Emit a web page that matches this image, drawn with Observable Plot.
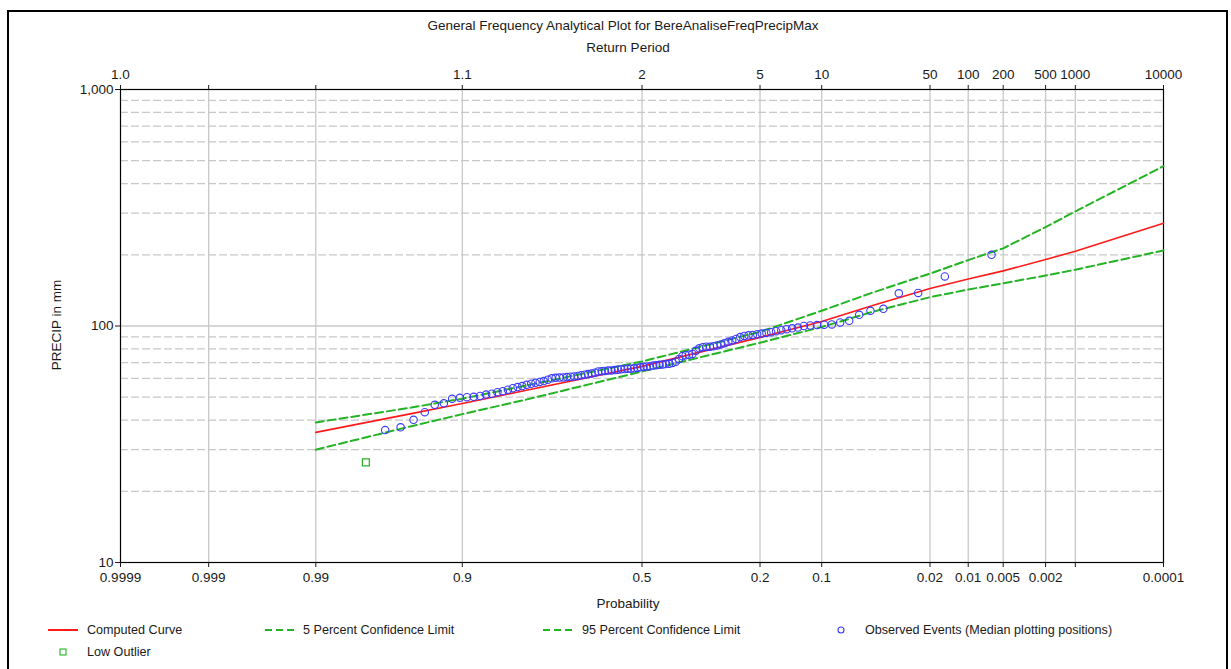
<!DOCTYPE html>
<html>
<head>
<meta charset="utf-8">
<script src="https://cdn.jsdelivr.net/npm/d3@7"></script>
<script src="https://cdn.jsdelivr.net/npm/@observablehq/plot@0.6"></script>
<style>
  html, body { margin: 0; padding: 0; background: #fff; }
  body { width: 1231px; height: 669px; position: relative; overflow: hidden;
         font-family: "Liberation Sans", Arial, sans-serif; font-size: 13.5px; color: #1a1a1a; }
  .abs { position: absolute; white-space: nowrap; line-height: 1; }
  .ctr { transform: translate(-50%, -50%); }
  .lt { transform: translate(0, -50%); font-size: 12.6px; }
  #border { position: absolute; left: 7px; top: 10px; width: 1217px; height: 700px; border: 2px solid #000; }
  #chart { position: absolute; left: 0; top: 58px; }
  .sw { position: absolute; }
</style>
</head>
<body>
<div id="border"></div>
<div class="abs ctr" style="left:623px; top:26px;">General Frequency Analytical Plot for BereAnaliseFreqPrecipMax</div>
<div class="abs ctr" style="left:628px; top:48px;">Return Period</div>
<div class="abs ctr" style="left:57px; top:325px; transform: translate(-50%,-50%) rotate(-90deg);">PRECIP in mm</div>
<div class="abs ctr" style="left:628px; top:604px;">Probability</div>
<div id="chart"></div>
<div id="legend"></div>
<script>
// ---------- data ----------
// exceedance probabilities of the axis ticks
const probTicks   = [0.9999, 0.999, 0.99, 0.9, 0.5, 0.2, 0.1, 0.02, 0.01, 0.005, 0.002, 0.001, 0.0001];
const probLabels  = ["0.9999", "0.999", "0.99", "0.9", "0.5", "0.2", "0.1", "0.02", "0.01", "0.005", "0.002", "", "0.0001"];
const returnLabels = ["1.0", "", "", "1.1", "2", "5", "10", "50", "100", "200", "500", "1000", "10000"];
// y axis
const yTicks = [10, 100, 1000];
const yMinorGrid = [20, 30, 40, 50, 60, 70, 80, 90, 200, 300, 400, 500, 600, 700, 800, 900];
const yMajorGrid = [100];

// frequency curves
const curveProb   = [0.99, 0.95, 0.9, 0.8, 0.5, 0.2, 0.1, 0.05, 0.02, 0.01, 0.005, 0.002, 0.001, 0.0001];
const computed    = [35.5, 42.6, 47.0, 53.2, 67.5, 89.5, 104.5, 122, 144, 158, 171, 191, 207, 272];
const conf5       = [39.1, 45.2, 49.3, 55.8, 70.8, 94.5, 116, 138.5, 166.5, 190, 213, 262, 305, 474];
const conf95      = [30.0, 37.7, 42.4, 48.6, 64.2, 85.0, 99, 114.8, 132.4, 142.6, 151.5, 163.5, 173, 208.6];

// observed events, ranked largest first (median plotting positions, record length n)
const recordLength = 110;
const observed = [
  200, 162, 138.0, 137.5, 118.2, 115.9, 111.5, 105.2, 103.5, 101.5,
  101.2, 100.9, 100.5, 100.0, 98.5, 97.8, 97.0, 96.0, 95.1, 94.2,
  93.5, 92.9, 92.3, 91.6, 91.3, 90.8, 89.8, 88.1, 86.9, 85.7,
  84.6, 83.6, 82.8, 82.1, 81.7, 81.7, 81.4, 80.5, 78.5, 76.2,
  75.6, 75.2, 74.5, 72.6, 70.6, 69.8, 69.2, 69.0, 68.8, 68.5,
  68.3, 68.0, 67.6, 67.4, 67.2, 66.9, 66.5, 66.2, 66.0, 65.9,
  65.8, 65.6, 65.3, 65.1, 64.9, 64.8, 64.6, 64.4, 64.2, 63.5,
  63.0, 62.6, 62.2, 61.9, 61.5, 61.2, 61.0, 60.8, 60.6, 60.5,
  60.4, 60.1, 59.3, 58.5, 58.0, 57.5, 57.0, 56.4, 55.7, 55.2,
  54.6, 53.8, 53.0, 52.5, 51.7, 51.3, 50.6, 50.2, 50.0, 49.7,
  49.2, 47.1, 46.4, 43.2, 40.1, 37.3, 36.3
];
const lowOutlierRank  = [108];
const lowOutlierValue = [26.5];

// ---------- helpers ----------
function invNorm(p) {
  const a=[-3.969683028665376e+01,2.209460984245205e+02,-2.759285104469687e+02,1.383577518672690e+02,-3.066479806614716e+01,2.506628277459239e+00];
  const b=[-5.447609879822406e+01,1.615858368580409e+02,-1.556989798598866e+02,6.680131188771972e+01,-1.328068155288572e+01];
  const c=[-7.784894002430293e-03,-3.223964580411365e-01,-2.400758277161838e+00,-2.549671010115155e+00,4.374664141464968e+00,2.938163982698783e+00];
  const d=[7.784695709041462e-03,3.224671290700398e-01,2.445134137142996e+00,3.754408661907416e+00];
  const pl = 0.02425, ph = 1 - pl;
  let q, r;
  if (p < pl) { q = Math.sqrt(-2*Math.log(p)); return (((((c[0]*q+c[1])*q+c[2])*q+c[3])*q+c[4])*q+c[5])/((((d[0]*q+d[1])*q+d[2])*q+d[3])*q+1); }
  if (p <= ph) { q = p - 0.5; r = q*q; return (((((a[0]*r+a[1])*r+a[2])*r+a[3])*r+a[4])*r+a[5])*q/(((((b[0]*r+b[1])*r+b[2])*r+b[3])*r+b[4])*r+1); }
  q = Math.sqrt(-2*Math.log(1-p));
  return -(((((c[0]*q+c[1])*q+c[2])*q+c[3])*q+c[4])*q+c[5])/((((d[0]*q+d[1])*q+d[2])*q+d[3])*q+1);
}
// exceedance probability -> standard normal position (probability paper)
const zx = P => invNorm(1 - P);
const medianPos = i => (i - 0.3) / (recordLength + 0.4);

const curveTable = curveProb.map((p, i) => ({p, computed: computed[i], conf5: conf5[i], conf95: conf95[i]}));
const obsTable = observed.map((v, i) => ({p: medianPos(i + 1), v}));
const outTable = lowOutlierValue.map((v, i) => ({p: medianPos(lowOutlierRank[i]), v}));

const tickZ = probTicks.map(zx);
const botMap = new Map(tickZ.map((z, i) => [z, probLabels[i]]));
const topMap = new Map(tickZ.map((z, i) => [z, returnLabels[i]]));
const gridZ = tickZ.slice(1, -1);

const RED = "#ff1a1a", GREEN = "#22b422", BLUE = "#3a3aff", GRID = "#c8c8c8";

const chart = Plot.plot({
  width: 1231, height: 557,
  marginLeft: 120, marginRight: 68, marginTop: 31, marginBottom: 53,
  style: {fontSize: "13.5px", fontFamily: "'Liberation Sans', Arial, sans-serif", color: "#1a1a1a", background: "transparent"},
  x: {domain: [zx(0.9999), zx(0.0001)]},
  y: {type: "log", domain: [10, 1000]},
  marks: [
    Plot.ruleY(yMinorGrid, {stroke: GRID, strokeWidth: 1.3, strokeDasharray: "8,3"}),
    Plot.ruleY(yMajorGrid, {stroke: GRID, strokeWidth: 1.3}),
    Plot.ruleX(gridZ, {stroke: GRID, strokeWidth: 1.3}),
    Plot.frame({stroke: "#000", strokeWidth: 1.2}),
    Plot.axisX(tickZ, {anchor: "bottom", tickSize: 5, tickPadding: 5, tickFormat: d => botMap.get(d), label: null}),
    Plot.axisX(tickZ, {anchor: "top", tickSize: 5, tickPadding: 6, tickFormat: d => topMap.get(d), label: null}),
    Plot.axisY(yTicks, {anchor: "left", tickSize: 5, tickPadding: 2, tickFormat: d3.format(","), label: null}),
    Plot.line(curveTable, {x: d => zx(d.p), y: "conf95", stroke: GREEN, strokeWidth: 2, strokeDasharray: "8,4"}),
    Plot.line(curveTable, {x: d => zx(d.p), y: "conf5", stroke: GREEN, strokeWidth: 2, strokeDasharray: "8,4"}),
    Plot.line(curveTable, {x: d => zx(d.p), y: "computed", stroke: RED, strokeWidth: 1.6}),
    Plot.dot(obsTable, {x: d => zx(d.p), y: "v", r: 3.7, stroke: BLUE, strokeWidth: 1.1, fill: "none"}),
    Plot.dot(outTable, {x: d => zx(d.p), y: "v", symbol: "square", r: 3.9, stroke: GREEN, strokeWidth: 1.2, fill: "none"})
  ]
});
document.getElementById("chart").appendChild(chart);

// ---------- legend ----------
const legendItems = [
  {label: "Computed Curve", kind: "line", color: RED, dash: null, sx: 48, tx: 87, y: 630},
  {label: "5 Percent Confidence Limit", kind: "line", color: GREEN, dash: "7,4", sx: 265, tx: 303, y: 630},
  {label: "95 Percent Confidence Limit", kind: "line", color: GREEN, dash: "7,4", sx: 543, tx: 582, y: 630},
  {label: "Observed Events (Median plotting positions)", kind: "circle", color: BLUE, sx: 836, tx: 865, y: 630},
  {label: "Low Outlier", kind: "square", color: GREEN, sx: 58, tx: 87, y: 652}
];
const legend = document.getElementById("legend");
for (const it of legendItems) {
  const ns = "http://www.w3.org/2000/svg";
  const s = document.createElementNS(ns, "svg");
  s.setAttribute("class", "sw");
  s.setAttribute("width", 32); s.setAttribute("height", 12);
  s.style.left = it.sx + "px"; s.style.top = (it.y - 6) + "px";
  let el;
  if (it.kind === "line") {
    el = document.createElementNS(ns, "line");
    el.setAttribute("x1", 0); el.setAttribute("x2", 30); el.setAttribute("y1", 6); el.setAttribute("y2", 6);
    el.setAttribute("stroke", it.color); el.setAttribute("stroke-width", 2);
    if (it.dash) el.setAttribute("stroke-dasharray", it.dash);
  } else if (it.kind === "circle") {
    el = document.createElementNS(ns, "circle");
    el.setAttribute("cx", 5); el.setAttribute("cy", 6); el.setAttribute("r", 3);
    el.setAttribute("fill", "none"); el.setAttribute("stroke", it.color); el.setAttribute("stroke-width", 1.1);
  } else {
    el = document.createElementNS(ns, "rect");
    el.setAttribute("x", 2); el.setAttribute("y", 3); el.setAttribute("width", 6); el.setAttribute("height", 6);
    el.setAttribute("fill", "none"); el.setAttribute("stroke", it.color); el.setAttribute("stroke-width", 1.1);
  }
  s.appendChild(el);
  legend.appendChild(s);
  const t = document.createElement("div");
  t.className = "abs lt";
  t.style.left = it.tx + "px"; t.style.top = it.y + "px";
  t.textContent = it.label;
  legend.appendChild(t);
}
</script>
</body>
</html>
